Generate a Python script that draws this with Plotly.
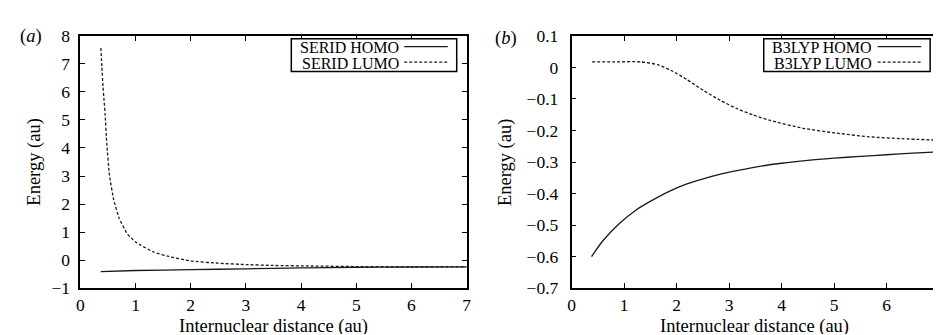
import plotly.graph_objects as go

# ---- data ----
serid_x = [0.372, 0.39, 0.41, 0.43, 0.449, 0.479, 0.527, 0.605, 0.706, 0.856, 1.0, 1.096,
           1.335, 1.6, 2.0, 2.5, 3.0, 3.5, 4.2, 5.0, 6.0, 7.0]
serid_lumo = [7.57, 6.9, 6.2, 5.7, 5.2, 4.16, 3.04, 2.15, 1.48, 0.92, 0.65, 0.53,
              0.28, 0.13, -0.03, -0.11, -0.16, -0.19, -0.21, -0.23, -0.24, -0.245]
serid_homo_x = [0.37, 1.0, 2.0, 3.0, 4.0, 5.0, 6.0, 7.0]
serid_homo = [-0.41, -0.37, -0.34, -0.31, -0.28, -0.255, -0.245, -0.24]

b3_lumo_x = [0.39, 0.8, 1.32, 1.64, 1.89, 2.2, 2.52, 2.83, 3.15, 3.46, 3.78, 4.41,
             5.03, 5.66, 6.29, 7.0]
b3_lumo = [0.0175, 0.0175, 0.0175, 0.0085, -0.009, -0.039, -0.074, -0.104, -0.131, -0.151,
           -0.168, -0.193, -0.208, -0.220, -0.226, -0.231]
b3_homo_x = [0.38, 0.6, 0.91, 1.23, 1.54, 1.86, 2.17, 2.49, 2.8, 3.1, 3.5, 4.0, 4.5,
             5.0, 5.5, 6.0, 6.5, 7.0]
b3_homo = [-0.600, -0.549, -0.495, -0.452, -0.421, -0.393, -0.371, -0.354, -0.340, -0.329,
           -0.316, -0.304, -0.295, -0.288, -0.282, -0.277, -0.272, -0.268]

x_ticks = [0, 1, 2, 3, 4, 5, 6, 7]
left_legend = ["SERID HOMO", "SERID LUMO"]
right_legend = ["B3LYP HOMO", "B3LYP LUMO"]

W, H = 941, 335
FONT = "Liberation Serif"
LINE = "#1a1a1a"
DASH = "3px,2px"
TICK_SIZE = 17.5
TITLE_SIZE = 18.5
LEG_SIZE = 16


def px(x):
    return x / W


def py(y):
    return 1 - y / H


fig = go.Figure()
fig.add_trace(go.Scatter(x=serid_homo_x, y=serid_homo, mode="lines",
                         line=dict(color=LINE, width=1.3, shape="spline", smoothing=0.6),
                         xaxis="x", yaxis="y", showlegend=False))
fig.add_trace(go.Scatter(x=serid_x, y=serid_lumo, mode="lines",
                         line=dict(color=LINE, width=1.3, dash=DASH, shape="spline", smoothing=0.4),
                         xaxis="x", yaxis="y", showlegend=False))
fig.add_trace(go.Scatter(x=b3_homo_x, y=b3_homo, mode="lines",
                         line=dict(color=LINE, width=1.3, shape="spline", smoothing=0.8),
                         xaxis="x2", yaxis="y2", showlegend=False))
fig.add_trace(go.Scatter(x=b3_lumo_x, y=b3_lumo, mode="lines",
                         line=dict(color=LINE, width=1.3, dash=DASH, shape="spline", smoothing=0.6),
                         xaxis="x2", yaxis="y2", showlegend=False))

ax_common = dict(showgrid=False, zeroline=False, showline=True, linecolor="black", linewidth=1.5,
                 mirror="allticks", ticks="inside", ticklen=5, tickwidth=1, tickcolor="black",
                 tickfont=dict(family=FONT, size=TICK_SIZE, color="black"))

ydom = [py(287.3), py(19)]
fig.update_layout(
    width=W, height=H, margin=dict(l=0, r=0, t=0, b=0),
    paper_bgcolor="white", plot_bgcolor="white",
    font=dict(family=FONT, size=16, color="black"),
    xaxis=dict(domain=[px(69), px(459)], range=[0, 7], tickvals=x_ticks, anchor="y",
               ticklabelstandoff=0, **ax_common),
    yaxis=dict(domain=ydom, range=[-1, 8], dtick=1, tick0=0, anchor="x",
               ticklabelstandoff=5, **ax_common),
    xaxis2=dict(domain=[px(565), px(936)], range=[0, 7], tickvals=x_ticks, anchor="y2",
                ticklabelstandoff=0, **ax_common),
    yaxis2=dict(domain=ydom, range=[-0.7, 0.1], dtick=0.1, tick0=0, anchor="x2",
                ticklabelstandoff=8, **ax_common),
)

ann = []
shapes = []
# axis titles
for cx in (264, 750):
    ann.append(dict(text="Internuclear distance (au)", x=px(cx), y=py(328), xref="paper", yref="paper",
                    showarrow=False, font=dict(family=FONT, size=TITLE_SIZE), xanchor="center", yanchor="middle",
                    height=16, borderpad=0))
for cx in (23, 499):
    ann.append(dict(text="Energy (au)", x=px(cx), y=py(153), xref="paper", yref="paper", textangle=-90,
                    showarrow=False, font=dict(family=FONT, size=TITLE_SIZE), xanchor="center", yanchor="middle"))
# panel labels
ann.append(dict(text="(<i>a</i>)", x=px(19), y=py(20), xref="paper", yref="paper", showarrow=False,
                font=dict(family=FONT, size=TITLE_SIZE), xanchor="center", yanchor="middle"))
ann.append(dict(text="(<i>b</i>)", x=px(499), y=py(22), xref="paper", yref="paper", showarrow=False,
                font=dict(family=FONT, size=TITLE_SIZE), xanchor="center", yanchor="middle"))

# legends (gnuplot style: text right-aligned, sample on the right)
for (x0, x1, txt_r, l0, l1, labels) in ((282, 449, 392, 396, 440, left_legend),
                                        (759, 927, 869, 874, 918, right_legend)):
    shapes.append(dict(type="rect", xref="paper", yref="paper", x0=px(x0), x1=px(x1), y0=py(57), y1=py(22),
                       line=dict(color="black", width=1.5), fillcolor="white", layer="above"))
    for i, (lab, yy) in enumerate(zip(labels, (31.5, 48))):
        ann.append(dict(text=lab, x=px(txt_r), y=py(yy), xref="paper", yref="paper", showarrow=False,
                        font=dict(family=FONT, size=LEG_SIZE), xanchor="right", yanchor="middle",
                        height=15, borderpad=0))
        shapes.append(dict(type="line", xref="paper", yref="paper", x0=px(l0), x1=px(l1),
                           y0=py(yy - 1), y1=py(yy - 1),
                           line=dict(color=LINE, width=1.3, dash=None if i == 0 else DASH), layer="above"))

fig.update_layout(annotations=ann, shapes=shapes)
fig.write_html("out.html")
